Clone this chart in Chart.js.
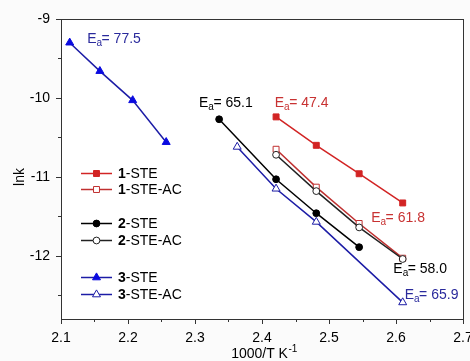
<!DOCTYPE html>
<html>
<head>
<meta charset="utf-8">
<script src="https://cdn.jsdelivr.net/npm/chart.js@4.4.1/dist/chart.umd.min.js"></script>
<style>
html,body{margin:0;padding:0;background:#fbfbfb;}
canvas{display:block;}
</style>
</head>
<body>
<canvas id="c" width="470" height="361"></canvas>
<script>
// ---- data ----
const seriesNames = ['1-STE', '1-STE-AC', '2-STE', '2-STE-AC', '3-STE', '3-STE-AC'];
const x1STE   = [2.421, 2.481, 2.545, 2.610];
const y1STE   = [-10.24, -10.60, -10.96, -11.33];
const x1STEAC = [2.421, 2.481, 2.545, 2.610];
const y1STEAC = [-10.65, -11.13, -11.59, -12.03];
const x2STE   = [2.336, 2.421, 2.481, 2.545];
const y2STE   = [-10.27, -11.03, -11.46, -11.89];
const x2STEAC = [2.421, 2.481, 2.545, 2.610];
const y2STEAC = [-10.72, -11.18, -11.64, -12.04];
const x3STE   = [2.113, 2.158, 2.207, 2.257];
const y3STE   = [-9.30, -9.66, -10.03, -10.56];
const x3STEAC = [2.363, 2.421, 2.481, 2.610];
const y3STEAC = [-10.62, -11.15, -11.57, -12.59];
const xTickLabels = [2.1, 2.2, 2.3, 2.4, 2.5, 2.6, 2.7];
const yTickLabels = [-12, -11, -10, -9];
const eaValues = ['77.5', '65.1', '47.4', '61.8', '58.0', '65.9'];

// ---- styles ----
const RED = '#d22424', RED_AC = '#c03030', BLK = '#000000', BLK_AC = '#222222', BLU = '#1c1ca6', BLU_MK = '#0a0ae0';
const FONT = '"Liberation Sans", Arial, sans-serif';

const pts = (xs, ys) => xs.map((x, i) => ({x: x, y: ys[i]}));
const styles = [
  {c: RED,    style: 'rect',     fill: RED,     r: 4.2, order: 1},
  {c: RED_AC, style: 'rect',     fill: '#fff',  r: 4.2, order: 3},
  {c: BLK,    style: 'circle',   fill: BLK,     r: 3.4, order: 2},
  {c: BLK_AC, style: 'circle',   fill: '#fff',  r: 3.4, order: 1},
  {c: BLU,    style: 'triangle', fill: BLU_MK,  r: 4.6, order: 1},
  {c: BLU,    style: 'triangle', fill: '#fff',  r: 4.6, order: 2}
];
const xs = [x1STE, x1STEAC, x2STE, x2STEAC, x3STE, x3STEAC];
const ys = [y1STE, y1STEAC, y2STE, y2STEAC, y3STE, y3STEAC];

const datasets = seriesNames.map((n, i) => ({
  label: n,
  data: pts(xs[i], ys[i]),
  showLine: true,
  borderColor: styles[i].c,
  borderWidth: 1.5,
  pointStyle: styles[i].style,
  pointRadius: styles[i].r,
  pointBackgroundColor: styles[i].fill,
  pointBorderColor: i === 4 ? BLU_MK : styles[i].c,
  pointBorderWidth: 1,
  order: styles[i].order
}));

// annotation placements (data coords of text baseline-left)
const eaLabels = [
  {t: eaValues[0], x: 2.139, y: -9.30,  c: '#2a2a9c'},
  {t: eaValues[1], x: 2.306, y: -10.115, c: '#000'},
  {t: eaValues[2], x: 2.419, y: -10.115, c: '#c83232'},
  {t: eaValues[3], x: 2.563, y: -11.57, c: '#c83232'},
  {t: eaValues[4], x: 2.596, y: -12.22, c: '#000'},
  {t: eaValues[5], x: 2.613, y: -12.55, c: '#2a2a9c'}
];

const legendRows = [173, 189, 223, 240, 277, 294];

const deco = {
  id: 'deco',
  beforeDraw(chart) {
    const ctx = chart.ctx;
    ctx.save();
    ctx.fillStyle = '#fbfbfb';
    ctx.fillRect(0, 0, chart.width, chart.height);
    ctx.fillStyle = '#ffffff';
    const a = chart.chartArea;
    ctx.fillRect(a.left, a.top, a.right - a.left, a.bottom - a.top);
    ctx.restore();
  },
  afterDraw(chart) {
    const ctx = chart.ctx, a = chart.chartArea;
    const xS = chart.scales.x, yS = chart.scales.y;
    ctx.save();
    // frame
    ctx.strokeStyle = '#333';
    ctx.lineWidth = 1;
    ctx.strokeRect(Math.round(a.left) + 0.5, Math.round(a.top) + 0.5, Math.round(a.right - a.left), Math.round(a.bottom - a.top));
    // ticks
    ctx.beginPath();
    for (let k = 0; k <= 12; k++) {
      const v = 2.1 + k * 0.05;
      const px = Math.round(xS.getPixelForValue(v)) + 0.5;
      const len = (k % 2 === 0) ? 5 : 3;
      ctx.moveTo(px, a.bottom); ctx.lineTo(px, a.bottom + len);
    }
    for (let k = 0; k <= 7; k++) {
      const v = -9 - k * 0.5;
      const py = Math.round(yS.getPixelForValue(v)) + 0.5;
      const len = (k % 2 === 0) ? 5 : 3;
      ctx.moveTo(a.left, py); ctx.lineTo(a.left - len, py);
    }
    ctx.stroke();

    // axis titles
    ctx.fillStyle = '#000';
    ctx.textBaseline = 'alphabetic';
    const t1 = '1000/T K', t2 = '-1';
    ctx.font = '14px ' + FONT;
    const w1 = ctx.measureText(t1).width;
    ctx.font = '10px ' + FONT;
    const w2 = ctx.measureText(t2).width;
    const cx = (a.left + a.right) / 2 + 2;
    const sx = cx - (w1 + w2) / 2;
    ctx.font = '14px ' + FONT;
    ctx.textAlign = 'left';
    ctx.fillText(t1, sx, 358);
    ctx.font = '10px ' + FONT;
    ctx.fillText(t2, sx + w1 + 0.5, 352);

    ctx.save();
    ctx.translate(24, 177);
    ctx.rotate(-Math.PI / 2);
    ctx.font = '14px ' + FONT;
    ctx.textAlign = 'center';
    ctx.fillText('lnk', 0, 0);
    ctx.restore();

    // Ea labels
    eaLabels.forEach(l => {
      const px = xS.getPixelForValue(l.x), py = yS.getPixelForValue(l.y);
      ctx.fillStyle = l.c;
      ctx.textAlign = 'left';
      ctx.font = '14px ' + FONT;
      ctx.fillText('E', px, py);
      const wE = ctx.measureText('E').width;
      ctx.font = '10px ' + FONT;
      ctx.fillText('a', px + wE, py + 3);
      const wa = ctx.measureText('a').width;
      ctx.font = '14px ' + FONT;
      ctx.fillText('= ' + l.t, px + wE + wa - 0.5, py);
    });

    // legend
    seriesNames.forEach((n, i) => {
      const y = legendRows[i];
      const ds = datasets[i];
      ctx.strokeStyle = ds.borderColor;
      ctx.lineWidth = 1.5;
      ctx.beginPath();
      ctx.moveTo(81, y + 0.5); ctx.lineTo(112, y + 0.5);
      ctx.stroke();
      ctx.fillStyle = ds.pointBackgroundColor;
      ctx.strokeStyle = ds.pointBorderColor;
      ctx.lineWidth = 1;
      Chart.helpers.drawPoint(ctx, {pointStyle: ds.pointStyle, rotation: 0, radius: ds.pointRadius, borderWidth: 1}, 96.5, y + 0.5);
      const parts = n.split('-');
      const num = parts[0], rest = '-' + parts.slice(1).join('-');
      ctx.fillStyle = '#000';
      ctx.textAlign = 'left';
      ctx.textBaseline = 'middle';
      ctx.font = 'bold 14px ' + FONT;
      ctx.fillText(num, 118, y + 1);
      const wn = ctx.measureText(num).width;
      ctx.font = '14px ' + FONT;
      ctx.fillText(rest, 118 + wn, y + 1);
      ctx.textBaseline = 'alphabetic';
    });
    ctx.restore();
  }
};

const chart = new Chart(document.getElementById('c'), {
  type: 'scatter',
  data: {datasets},
  options: {
    responsive: false,
    animation: false,
    devicePixelRatio: 1,
    layout: {padding: {top: 19, right: 7, left: 0, bottom: 0}},
    plugins: {legend: {display: false}, tooltip: {enabled: false}},
    scales: {
      x: {
        type: 'linear', min: 2.1, max: 2.7,
        afterBuildTicks: s => { s.ticks = xTickLabels.map(v => ({value: v})); },
        afterFit: s => { s.height = 42; s.paddingLeft = 0; s.paddingRight = 0; },
        grid: {display: false, drawTicks: false},
        border: {display: false},
        ticks: {
          padding: 11, color: '#000', font: {size: 14, family: FONT},
          maxRotation: 0, autoSkip: false,
          callback: v => Number(v).toFixed(1)
        }
      },
      y: {
        type: 'linear', min: -12.8, max: -9,
        afterBuildTicks: s => { s.ticks = yTickLabels.map(v => ({value: v})); },
        afterFit: s => { s.width = 61; s.paddingTop = 0; s.paddingBottom = 0; },
        grid: {display: false, drawTicks: false},
        border: {display: false},
        ticks: {
          padding: 11, color: '#000', font: {size: 14, family: FONT},
          autoSkip: false,
          callback: v => String(v)
        }
      }
    }
  },
  plugins: [deco]
});
</script>
</body>
</html>
